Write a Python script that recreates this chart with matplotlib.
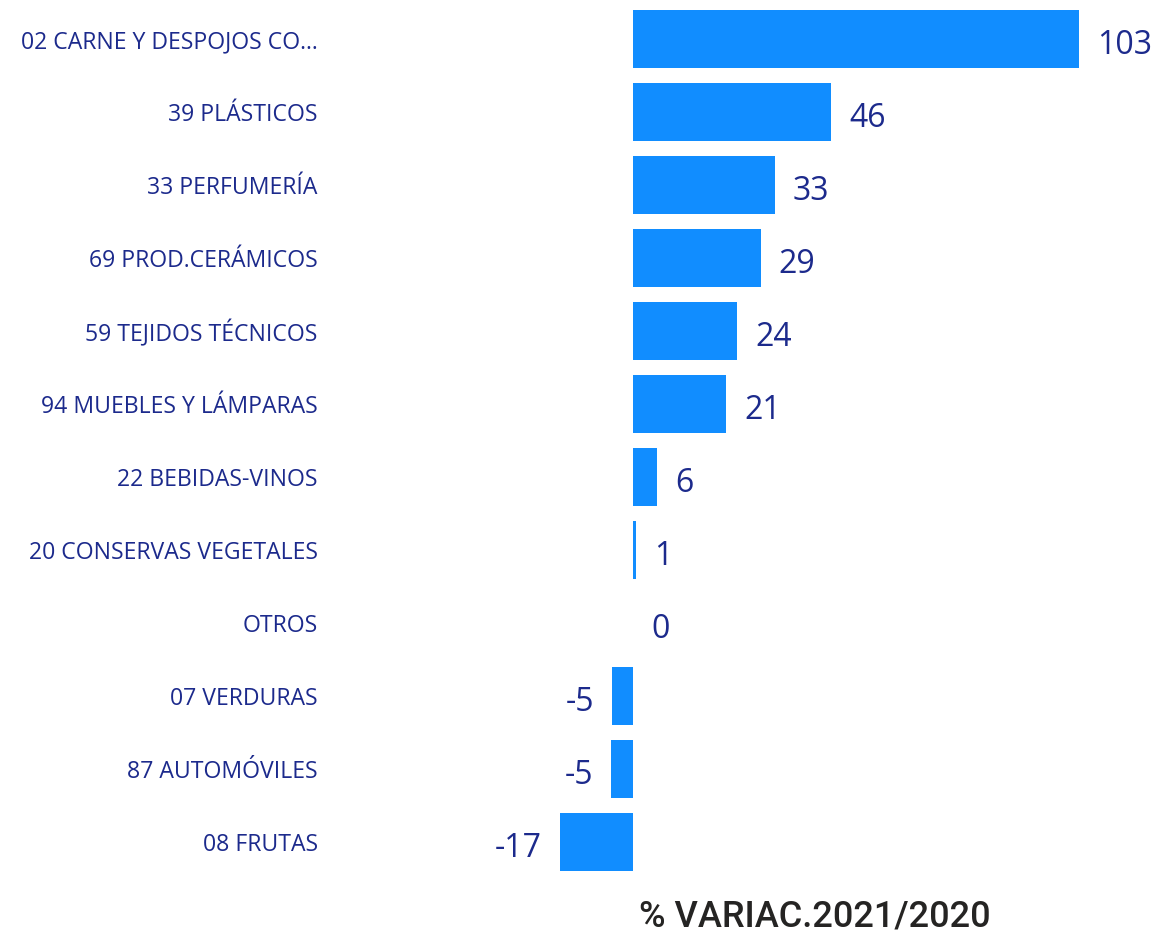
import matplotlib
matplotlib.use("Agg")
import matplotlib.pyplot as plt

categories = [
    "02 CARNE Y DESPOJOS CO...", "39 PLÁSTICOS", "33 PERFUMERÍA",
    "69 PROD.CERÁMICOS", "59 TEJIDOS TÉCNICOS", "94 MUEBLES Y LÁMPARAS",
    "22 BEBIDAS-VINOS", "20 CONSERVAS VEGETALES", "OTROS",
    "07 VERDURAS", "87 AUTOMÓVILES", "08 FRUTAS",
]
values = [102.8, 45.7, 32.6, 29.4, 24.0, 21.4, 5.5, 0.8, 0.0, -4.8, -5.0, -16.8]
labels = ["103", "46", "33", "29", "24", "21", "6", "1", "0", "-5", "-5", "-17"]
title = "% VARIAC.2021/2020"

BAR = "#118DFF"
TXT = "#1C2A8C"

W, H = 1156, 935
fig = plt.figure(figsize=(W / 100, H / 100), dpi=100)
ax = fig.add_axes([340 / W, 1 - 878.5 / H, 810 / W, 876 / H])

pos = list(range(len(categories)))
ax.barh(pos, values, height=0.795, color=BAR)
ax.set_xlim(-67.5, 119.1)
ax.set_ylim(11.5, -0.5)

ax.set_yticks(pos)
ax.set_yticklabels(categories, fontsize=16.6, color=TXT, family=["Open Sans", "DejaVu Sans"])
ax.tick_params(axis="y", length=0, pad=16)
ax.set_xticks([])
for s in ax.spines.values():
    s.set_visible(False)

# value labels sit a bit below the bar centre, outside the bar end
for p, v, lab in zip(pos, values, labels):
    off = 13 if v >= 0 else -13
    ha = "left" if v >= 0 else "right"
    ax.annotate(lab, (v, p), xytext=(off, -4.5), textcoords="offset points",
                ha=ha, va="center", fontsize=23, color=TXT,
                family=["Open Sans", "DejaVu Sans"])

fig.text(815 / W, 1 - 917 / H, title, ha="center", va="center", fontsize=26,
         color="#252423", family=["Roboto", "DejaVu Sans"], fontweight="medium")

fig.savefig("out.png", dpi=100)
